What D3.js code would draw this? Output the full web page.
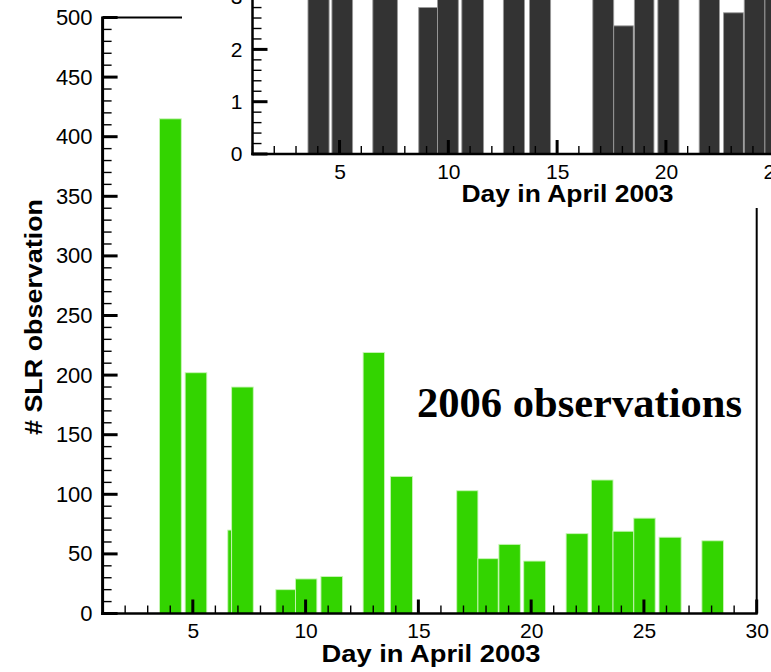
<!DOCTYPE html>
<html>
<head>
<meta charset="utf-8">
<script src="https://cdn.jsdelivr.net/npm/d3@7"></script>
<style>
  html, body { margin: 0; padding: 0; background: #fff; }
  svg { display: block; }
</style>
</head>
<body>
<div id="chart"></div>
<script>
// ---------- Main chart data (bars: start day, end day, # SLR observations) ----------
const mainStart = [3.52, 4.66, 6.55, 6.72, 8.68, 9.55, 10.68, 12.55, 13.76, 16.70, 17.64, 18.57, 19.67, 21.55, 22.67, 23.63, 24.55, 25.67, 27.57];
const mainEnd   = [4.49, 5.62, 6.72, 7.68, 9.55, 10.50, 11.64, 13.50, 14.74, 17.64, 18.54, 19.52, 20.64, 22.52, 23.63, 24.55, 25.50, 26.65, 28.53];
const mainCount = [415, 202, 70, 190, 20, 29, 31, 219, 115, 103, 46, 58, 44, 67, 112, 69, 80, 64, 61];

// ---------- Inset chart data (bars: start day, end day, value) ----------
const insetStart = [3.55, 4.65, 6.53, 8.64, 9.50, 10.62, 12.53, 13.73, 16.64, 17.60, 18.55, 19.63, 21.53, 22.65, 23.60, 24.55, 25.66, 27.55];
const insetEnd   = [4.52, 5.60, 7.66, 9.50, 10.46, 11.62, 13.50, 14.70, 17.60, 18.50, 19.45, 20.60, 22.46, 23.56, 24.55, 25.50, 26.60, 28.50];
const insetValue = [4, 4, 4, 2.8, 4, 4, 4, 4, 4, 2.45, 4, 4, 4, 2.7, 4, 4, 4, 4];

// ---------- Tick values / labels ----------
const mainYTicks = [0, 50, 100, 150, 200, 250, 300, 350, 400, 450, 500];
const mainXTicks = [5, 10, 15, 20, 25, 30];
const insetYTicks = [0, 1, 2, 3];
const insetXTicks = [5, 10, 15, 20, 25];
const xTitle = "Day in April 2003";
const yTitle = "# SLR observation";
const note = "2006 observations";

const W = 771, H = 672;
const svg = d3.select("#chart").append("svg").attr("width", W).attr("height", H);
const SANS = "'Liberation Sans', Arial, Helvetica, sans-serif";
const SERIF = "'Liberation Serif', 'Times New Roman', serif";

// inward tick marks drawn from the scales
function ticksY(g, scale, x0, values, len, width) {
  g.append("g").selectAll("line").data(values).join("line")
    .attr("x1", x0).attr("x2", x0 + len)
    .attr("y1", d => scale(d)).attr("y2", d => scale(d))
    .attr("stroke", "#000").attr("stroke-width", width);
}
function ticksX(g, scale, y0, values, len, width) {
  g.append("g").selectAll("line").data(values).join("line")
    .attr("y1", y0).attr("y2", y0 - len)
    .attr("x1", d => scale(d)).attr("x2", d => scale(d))
    .attr("stroke", "#000").attr("stroke-width", width);
}
function labelAxis(g, size) {
  g.attr("font-family", SANS).attr("font-size", size);
  g.selectAll(".tick line").remove();
  g.select(".domain").remove();
  g.selectAll("text").attr("fill", "#000");
}

// ---------- Main chart ----------
const x = d3.scaleLinear().domain([1, 30]).range([102.6, 756.7]);
const y = d3.scaleLinear().domain([0, 500]).range([613.5, 17.5]);

const main = svg.append("g");
main.append("g").selectAll("rect")
  .data(mainCount.map((v, i) => ({ s: mainStart[i], e: mainEnd[i], v })))
  .join("rect")
  .attr("x", d => x(d.s))
  .attr("width", d => x(d.e) - x(d.s))
  .attr("y", d => y(d.v))
  .attr("height", d => y(0) - y(d.v))
  .attr("fill", "#33d400")
  .attr("stroke", "#c9f5b8")
  .attr("stroke-width", 0.9);

main.append("path")
  .attr("d", `M${x(1)},${y(500)}H${x(30)}V${y(0)}`)
  .attr("fill", "none").attr("stroke", "#000").attr("stroke-width", 2);

ticksY(main, y, x(1), d3.range(0, 501, 10).filter(v => v % 50 !== 0), 9, 1.4);
ticksY(main, y, x(1), mainYTicks, 15, 3);
ticksX(main, x, y(0), d3.range(1, 31, 1).filter(v => v % 5 !== 0), 8, 1.4);
ticksX(main, x, y(0), mainXTicks, 14, 3);

main.append("line").attr("x1", x(1)).attr("x2", x(1)).attr("y1", y(500) - 1).attr("y2", y(0) + 1.5)
  .attr("stroke", "#000").attr("stroke-width", 3);
main.append("line").attr("x1", x(1) - 1.5).attr("x2", x(30) + 1).attr("y1", y(0)).attr("y2", y(0))
  .attr("stroke", "#000").attr("stroke-width", 2.5);

main.append("g").attr("transform", `translate(${x(1)},0)`)
  .call(d3.axisLeft(y).tickValues(mainYTicks).tickSize(0).tickPadding(10).tickFormat(d3.format("d")))
  .call(g => labelAxis(g, 22));
main.append("g").attr("transform", `translate(0,${y(0)})`)
  .call(d3.axisBottom(x).tickValues(mainXTicks).tickSize(0).tickPadding(10).tickFormat(d3.format("d")))
  .call(g => labelAxis(g, 21));

svg.append("text")
  .attr("transform", "translate(42,317) rotate(-90)")
  .attr("text-anchor", "middle")
  .attr("font-family", SANS).attr("font-weight", "bold").attr("font-size", 24)
  .attr("textLength", 236).attr("lengthAdjust", "spacingAndGlyphs")
  .text(yTitle);
svg.append("text")
  .attr("x", 431).attr("y", 662)
  .attr("text-anchor", "middle")
  .attr("font-family", SANS).attr("font-weight", "bold").attr("font-size", 24)
  .attr("textLength", 219).attr("lengthAdjust", "spacingAndGlyphs")
  .text(xTitle);
svg.append("text")
  .attr("x", 417).attr("y", 417.3)
  .attr("font-family", SERIF).attr("font-weight", "bold").attr("font-size", 43)
  .attr("textLength", 325).attr("lengthAdjust", "spacingAndGlyphs")
  .text(note);

// ---------- Inset chart ----------
const xi = d3.scaleLinear().domain([1, 30]).range([252.5, 883.5]);
const yi = d3.scaleLinear().domain([0, 5]).range([154, 154 - 5 * 52.3]);

const inset = svg.append("g");
inset.append("rect")
  .attr("x", 182).attr("y", -100).attr("width", 800).attr("height", 308)
  .attr("fill", "#fff");

inset.append("g").selectAll("rect")
  .data(insetValue.map((v, i) => ({ s: insetStart[i], e: insetEnd[i], v })))
  .join("rect")
  .attr("x", d => xi(d.s))
  .attr("width", d => xi(d.e) - xi(d.s))
  .attr("y", d => yi(d.v))
  .attr("height", d => yi(0) - yi(d.v))
  .attr("fill", "#333333")
  .attr("stroke", "#9a9a9a")
  .attr("stroke-width", 0.9);

ticksY(inset, yi, xi(1), d3.range(1, 25, 1).filter(v => v % 5 !== 0).map(v => v / 5), 9, 1.4);
ticksY(inset, yi, xi(1), [0, 1, 2, 3, 4, 5], 15, 3);
ticksX(inset, xi, yi(0), d3.range(1, 31, 1).filter(v => v % 5 !== 0), 8, 1.4);
ticksX(inset, xi, yi(0), [5, 10, 15, 20, 25, 30], 14, 3);

inset.append("line").attr("x1", xi(1)).attr("x2", xi(1)).attr("y1", yi(5)).attr("y2", yi(0) + 1.3)
  .attr("stroke", "#000").attr("stroke-width", 2.5);
inset.append("line").attr("x1", xi(1) - 1.3).attr("x2", xi(30)).attr("y1", yi(0)).attr("y2", yi(0))
  .attr("stroke", "#000").attr("stroke-width", 2.5);

inset.append("g").attr("transform", `translate(${xi(1)},0)`)
  .call(d3.axisLeft(yi).tickValues(insetYTicks).tickSize(0).tickPadding(10).tickFormat(d3.format("d")))
  .call(g => labelAxis(g, 21));
inset.append("g").attr("transform", `translate(0,${yi(0)})`)
  .call(d3.axisBottom(xi).tickValues(insetXTicks).tickSize(0).tickPadding(10).tickFormat(d3.format("d")))
  .call(g => labelAxis(g, 21));

svg.append("text")
  .attr("x", 567.5).attr("y", 202)
  .attr("text-anchor", "middle")
  .attr("font-family", SANS).attr("font-weight", "bold").attr("font-size", 24)
  .attr("textLength", 212).attr("lengthAdjust", "spacingAndGlyphs")
  .text(xTitle);
</script>
</body>
</html>
